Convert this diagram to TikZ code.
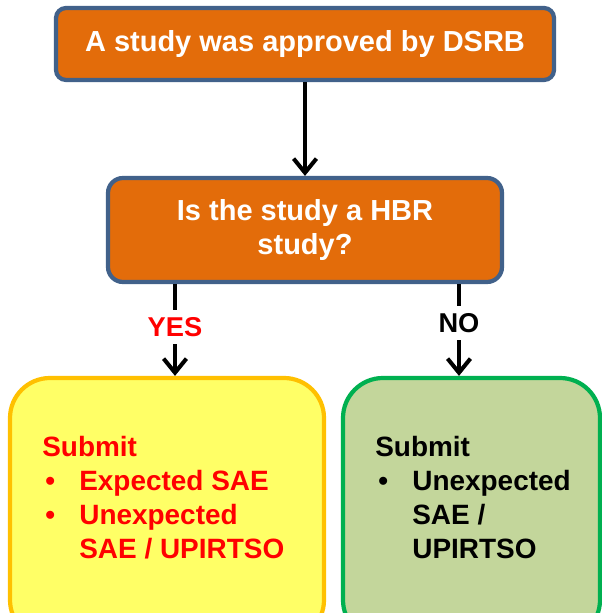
\documentclass[tikz,border=0pt]{standalone}
\usepackage{fontspec}
\setmainfont{Liberation Sans}
\usetikzlibrary{arrows.meta,positioning}
\definecolor{boxorange}{HTML}{E36C0A}
\definecolor{boxblue}{HTML}{41618A}
\definecolor{yesfill}{HTML}{FFFF66}
\definecolor{yesline}{HTML}{FFC000}
\definecolor{nofill}{HTML}{C3D69B}
\definecolor{noline}{HTML}{00B050}
\newcommand{\itemdot}{\makebox[0.74cm][l]{\hspace{0.06cm}\textbullet}}
\begin{document}
\begin{tikzpicture}[
    flowbox/.style={draw=boxblue,fill=boxorange,line width=2.4pt,text=white,
        font=\fontsize{16.5}{19.3}\selectfont\bfseries,align=center},
    endbox/.style={line width=2.4pt,rounded corners=0.8cm,minimum width=#1,minimum height=5.24cm},
    listtext/.style={inner sep=0pt,anchor=north west,align=left,
        font=\fontsize{15.9}{19.3}\selectfont\bfseries},
    lbl/.style={inner sep=4pt,font=\fontsize{15.5}{18}\selectfont\bfseries},
    arr/.style={line width=2.3pt,-{Straight Barb[length=8pt,width=13pt]}}
]
\useasboundingbox (0,0) rectangle (12.04,12.26);
\clip (0,0) rectangle (12.04,12.26);
% boxes
\node[flowbox,rounded corners=0.2cm,minimum width=9.96cm,minimum height=1.44cm](dsrb)at(6.1,11.38){A study was approved by DSRB};
\node[flowbox,rounded corners=0.3cm,minimum width=7.88cm,minimum height=2.08cm](hbr)at(6.1,7.66){Is the study a HBR\\study?};
\node[endbox=6.28cm,draw=yesline,fill=yesfill](yesbox)at(3.34,2.08){};
\node[endbox=5.14cm,draw=noline,fill=nofill](nobox)at(9.43,2.08){};
% labels
\node[lbl,text=red](yes)at(3.5,5.72){YES};
\node[lbl](no)at(9.18,5.8){NO};
% lists
\node[listtext,text=red](yeslist)at(0.84,3.54){Submit\\\itemdot Expected SAE\\\itemdot Unexpected\\\hspace*{0.74cm}SAE / UPIRTSO};
\node[listtext](nolist)at(7.5,3.54){Submit\\\itemdot Unexpected\\\hspace*{0.74cm}SAE /\\\hspace*{0.74cm}UPIRTSO};
% connectors
\draw[arr](dsrb)--(hbr);
\draw[line width=2.3pt](hbr.south -| yes)--(yes.north);
\draw[arr](yes.south)--(yesbox.north -| yes);
\draw[line width=2.3pt](hbr.south -| no)--(no.north);
\draw[arr](no.south)--(nobox.north -| no);
\end{tikzpicture}
\end{document}
